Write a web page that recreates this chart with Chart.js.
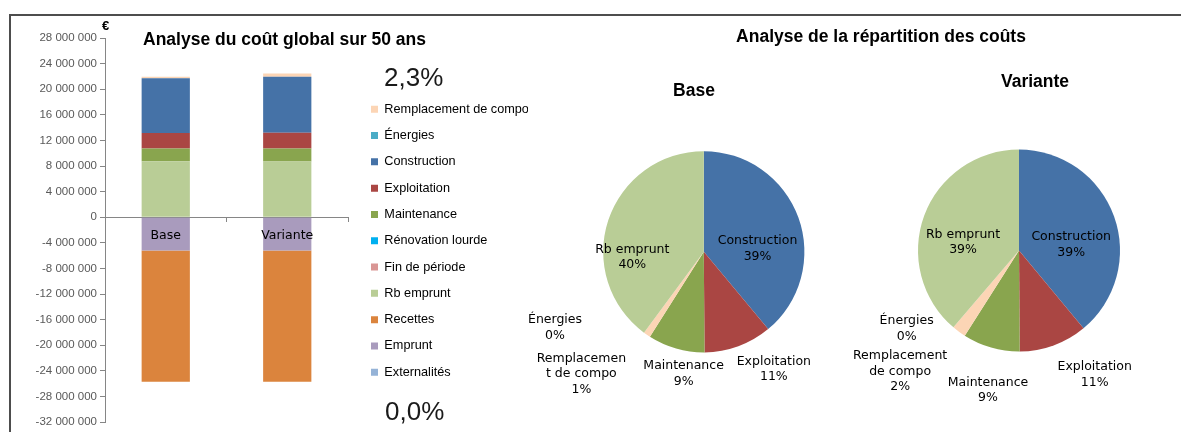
<!DOCTYPE html>
<html lang="fr">
<head>
<meta charset="utf-8">
<title>Analyse du coût global</title>
<script src="https://cdn.jsdelivr.net/npm/chart.js@4.4.1/dist/chart.umd.min.js"></script>
<style>
  html, body { margin: 0; padding: 0; background: #fff; }
  body { width: 1181px; height: 432px; position: relative; overflow: hidden; font-family: "Liberation Sans", Arial, sans-serif; }
  .frame { position: absolute; left: 9px; top: 14px; width: 1200px; height: 500px; border-top: 2px solid #4d4d4d; border-left: 2px solid #4d4d4d; }
  canvas { position: absolute; }
  .txt { position: absolute; white-space: nowrap; color: #000; line-height: 20px; }
  .title { font-weight: bold; font-size: 17.5px; }
  .center { transform: translateX(-50%); }
  .pct { font-size: 26px; line-height: 30px; color: #1a1a1a; }
</style>
</head>
<body>
<div class="frame"></div>
<canvas id="barChart" width="528" height="432" style="left:0;top:0"></canvas>
<canvas id="pieBase" width="330" height="390" style="left:520px;top:40px"></canvas>
<canvas id="pieVariante" width="331" height="390" style="left:850px;top:40px"></canvas>

<div class="txt" style="left:102px;top:16px;font-weight:bold;font-size:13px">€</div>
<div class="txt title" style="left:143px;top:29px">Analyse du coût global sur 50 ans</div>
<div class="txt title center" style="left:881px;top:26px">Analyse de la répartition des coûts</div>
<div class="txt title center" style="left:694px;top:80px">Base</div>
<div class="txt title center" style="left:1035px;top:71px">Variante</div>
<div class="txt pct" id="pctTop" style="left:384px;top:62px"></div>
<div class="txt pct" id="pctBottom" style="left:385px;top:396px"></div>

<script>
// Catégories et séries (en euros)
const categories = ['Base', 'Variante'];
const externalites = [0, 0];
const emprunt = [-5200000, -5200000];
const recettes = [-20500000, -20500000];
const rbEmprunt = [8750000, 8700000];
const finDePeriode = [0, 0];
const renovationLourde = [0, 0];
const maintenance = [2000000, 2050000];
const exploitation = [2400000, 2450000];
const construction = [8550000, 8750000];
const energies = [0, 0];
const remplacement = [250000, 500000];

// Camemberts : ordre des parts (sens horaire depuis midi)
const pieCategories = ['Construction', 'Exploitation', 'Maintenance', 'Remplacement de compo', 'Énergies', 'Rb emprunt'];
const pieSeries = [construction, exploitation, maintenance, remplacement, energies, rbEmprunt];
const baseLabelLines = [['Construction'], ['Exploitation'], ['Maintenance'], ['Remplacemen', 't de compo'], ['Énergies'], ['Rb emprunt']];
const varianteLabelLines = [['Construction'], ['Exploitation'], ['Maintenance'], ['Remplacement', 'de compo'], ['Énergies'], ['Rb emprunt']];

const colors = {
    remplacement: '#FCD5B5',
    energies: '#4BACC6',
    construction: '#4572A7',
    exploitation: '#AA4643',
    maintenance: '#89A54E',
    renovation: '#00B0F0',
    fin: '#D99694',
    rb: '#B9CD96',
    recettes: '#DB843D',
    emprunt: '#A99BBD',
    externalites: '#95B3D7'
};

function fmt(v) {
    return (v < 0 ? '-' : '') + String(Math.abs(v)).replace(/\B(?=(\d{3})+(?!\d))/g, ' ');
}

function pct(a, b) {
    return (b === 0 ? 0 : (a / b - 1) * 100).toFixed(1).replace('.', ',') + '%';
}

// Écarts Variante / Base (partie positive et partie négative)
const posSeries = [rbEmprunt, finDePeriode, renovationLourde, maintenance, exploitation, construction, energies, remplacement];
const negSeries = [externalites, emprunt, recettes];
const sumAt = (list, i) => list.reduce((s, arr) => s + arr[i], 0);
document.getElementById('pctTop').textContent = pct(sumAt(posSeries, 1), sumAt(posSeries, 0));
document.getElementById('pctBottom').textContent = pct(sumAt(negSeries, 1), sumAt(negSeries, 0));

// Décale la légende vers la droite
const legendShift = {
    id: 'legendShift',
    afterLayout(chart, args, opts) {
        if (chart.legend) {
            chart.legend.left += opts.dx;
            chart.legend.right += opts.dx;
        }
    }
};

function ds(label, data, color) {
    return { label: label, data: data, backgroundColor: color, borderWidth: 0 };
}

new Chart(document.getElementById('barChart'), {
    type: 'bar',
    data: {
        labels: categories,
        datasets: [
            ds('Externalités', externalites, colors.externalites),
            ds('Emprunt', emprunt, colors.emprunt),
            ds('Recettes', recettes, colors.recettes),
            ds('Rb emprunt', rbEmprunt, colors.rb),
            ds('Fin de période', finDePeriode, colors.fin),
            ds('Rénovation lourde', renovationLourde, colors.renovation),
            ds('Maintenance', maintenance, colors.maintenance),
            ds('Exploitation', exploitation, colors.exploitation),
            ds('Construction', construction, colors.construction),
            ds('Énergies', energies, colors.energies),
            ds('Remplacement de compo', remplacement, colors.remplacement)
        ]
    },
    options: {
        responsive: false,
        animation: false,
        events: [],
        datasets: { bar: { barPercentage: 0.397, categoryPercentage: 1 } },
        layout: { padding: { top: 38, bottom: 8, left: 0, right: 0 } },
        scales: {
            x: {
                type: 'category',
                stacked: true,
                position: { y: 0 },
                grid: { drawOnChartArea: false, drawTicks: true, tickLength: 4, offset: true, color: '#868686' },
                border: { color: '#868686' },
                ticks: { z: 1, color: '#000', padding: 7, font: { family: 'DejaVu Sans', size: 12.5 } }
            },
            y: {
                stacked: true,
                min: -32000000,
                max: 28000000,
                afterFit(scale) { scale.width = 105; },
                grid: { drawOnChartArea: false, drawTicks: true, tickLength: 5, color: '#868686' },
                border: { color: '#868686' },
                ticks: {
                    stepSize: 4000000,
                    autoSkip: false,
                    padding: 3,
                    color: '#595959',
                    font: { family: 'Liberation Sans', size: 11.5 },
                    callback: v => fmt(v)
                }
            }
        },
        plugins: {
            tooltip: { enabled: false },
            legendShift: { dx: 9.4 },
            legend: {
                position: 'right',
                align: 'start',
                reverse: true,
                maxWidth: 180,
                title: { display: true, text: '', font: { size: 10 }, padding: { top: 39.3, bottom: 0 } },
                labels: {
                    boxWidth: 7,
                    boxHeight: 7,
                    padding: 13.6,
                    color: '#000',
                    font: { family: 'Liberation Sans', size: 12.7 }
                }
            }
        }
    },
    plugins: [legendShift]
});

// Étiquettes des camemberts (nom + pourcentage)
const pieLabels = {
    id: 'pieLabels',
    afterDatasetsDraw(chart, args, opts) {
        const ctx = chart.ctx;
        const meta = chart.getDatasetMeta(0);
        const values = chart.data.datasets[0].data;
        const total = values.reduce((a, b) => a + b, 0);
        ctx.save();
        ctx.font = '12.5px "DejaVu Sans", Verdana, sans-serif';
        ctx.fillStyle = '#000';
        ctx.textAlign = 'center';
        ctx.textBaseline = 'middle';
        meta.data.forEach((arc, i) => {
            const p = arc.getProps(['x', 'y', 'startAngle', 'endAngle', 'outerRadius'], true);
            const place = opts.placement[i];
            const a = (p.startAngle + p.endAngle) / 2 + place[0] * Math.PI / 180;
            const d = p.outerRadius * place[1];
            const cx = p.x + Math.cos(a) * d;
            const cy = p.y + Math.sin(a) * d;
            const lines = opts.names[i].concat(Math.round(values[i] / total * 100) + '%');
            lines.forEach((line, j) => {
                ctx.fillText(line, cx, cy + (j - (lines.length - 1) / 2) * 15.5);
            });
        });
        ctx.restore();
    }
};

const pieColors = [colors.construction, colors.exploitation, colors.maintenance, colors.remplacement, colors.energies, colors.rb];

function makePie(id, idx, names, placement, padding) {
    return new Chart(document.getElementById(id), {
        type: 'pie',
        data: {
            labels: pieCategories,
            datasets: [{
                data: pieSeries.map(s => s[idx]),
                backgroundColor: pieColors,
                borderWidth: 0,
                hoverOffset: 0
            }]
        },
        options: {
            responsive: false,
            animation: false,
            events: [],
            layout: { padding: padding },
            plugins: {
                legend: { display: false },
                tooltip: { enabled: false },
                pieLabels: { names: names, placement: placement }
            }
        },
        plugins: [pieLabels]
    });
}

// [décalage angulaire en degrés, distance en rayons]
makePie('pieBase', 0, baseLabelLines,
    [[16.6, 0.535], [-10.7, 1.36], [-6.6, 1.23], [10.6, 1.72], [26.5, 1.66], [-22.8, 0.713]],
    { left: 83.2, top: 111.2, right: 45.6, bottom: 77.6 });
makePie('pieVariante', 1, varianteLabelLines,
    [[13.3, 0.52], [-11.3, 1.44], [-3.5, 1.415], [8, 1.68], [14.7, 1.355], [-11.9, 0.56]],
    { left: 68, top: 109.5, right: 61, bottom: 78.5 });
</script>
</body>
</html>
